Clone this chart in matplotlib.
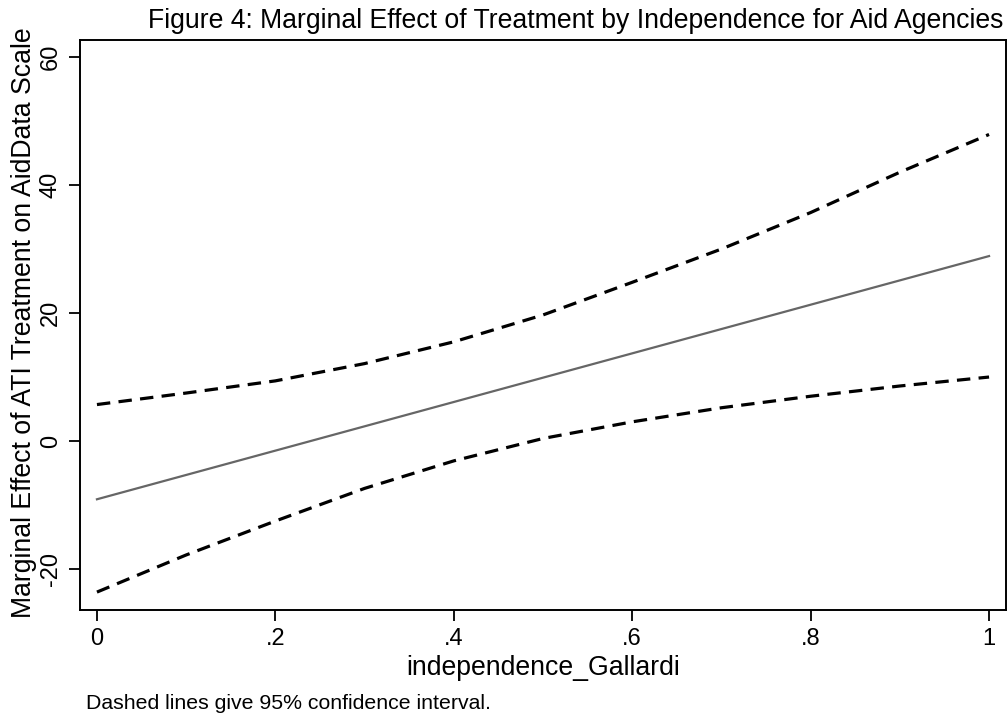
import matplotlib
matplotlib.use("Agg")
import matplotlib.pyplot as plt

plt.rcParams["font.family"] = ["Liberation Sans", "DejaVu Sans"]

# valeurs
independence = [0.0, 0.1, 0.2, 0.3, 0.4, 0.5, 0.6, 0.7, 0.8, 0.9, 1.0]
effet = [-9.1, -5.3, -1.5, 2.3, 6.1, 9.9, 13.7, 17.5, 21.3, 25.1, 28.9]
borne_haute = [5.7, 7.5, 9.4, 12.1, 15.5, 19.7, 24.8, 30.0, 35.7, 42.0, 47.9]
borne_basse = [-23.6, -17.8, -12.5, -7.4, -3.1, 0.4, 3.0, 5.2, 7.0, 8.6, 10.0]

xticks = [0, 0.2, 0.4, 0.6, 0.8, 1.0]
xtick_labels = ["0", ".2", ".4", ".6", ".8", "1"]
yticks = [-20, 0, 20, 40, 60]

W, H = 1008, 717
fig = plt.figure(figsize=(W / 100, H / 100), dpi=100)
ax = fig.add_axes([80 / W, 1 - 610 / H, 926 / W, 570 / H])

ax.plot(independence, effet, color="#666666", lw=1.6)
ax.plot(independence, borne_haute, color="black", lw=2.3, dashes=(4.2, 2.6))
ax.plot(independence, borne_basse, color="black", lw=2.3, dashes=(4.2, 2.6))

ax.set_xlim(-0.019, 1.019)
ax.set_ylim(-26.4, 62.66)
ax.set_xticks(xticks)
ax.set_xticklabels(xtick_labels)
ax.set_yticks(yticks)
ax.set_yticklabels([str(v) for v in yticks], rotation=90, va="center")

for s in ax.spines.values():
    s.set_linewidth(1.4)
ax.tick_params(length=8, width=1.3, labelsize=17)
ax.tick_params(axis="x", pad=4.7)
ax.tick_params(axis="y", pad=5)

ax.set_xlabel("independence_Gallardi", fontsize=19.2)
ax.xaxis.label.set_va("baseline")
ax.xaxis.set_label_coords(0.5, (610 - 675) / 570)

ax.set_ylabel("Marginal Effect of ATI Treatment on AidData Scale", fontsize=19.2)
ax.yaxis.label.set_va("baseline")
ax.yaxis.set_label_coords((31 - 80) / 926, (610 - 322.5) / 570)

fig.text(1003 / W, 1 - 28 / H, "Figure 4: Marginal Effect of Treatment by Independence for Aid Agencies",
         ha="right", va="baseline", fontsize=19.2)
fig.text(86 / W, 1 - 709 / H, "Dashed lines give 95% confidence interval.",
         ha="left", va="baseline", fontsize=15.3)

fig.savefig("out.png", dpi=100)
